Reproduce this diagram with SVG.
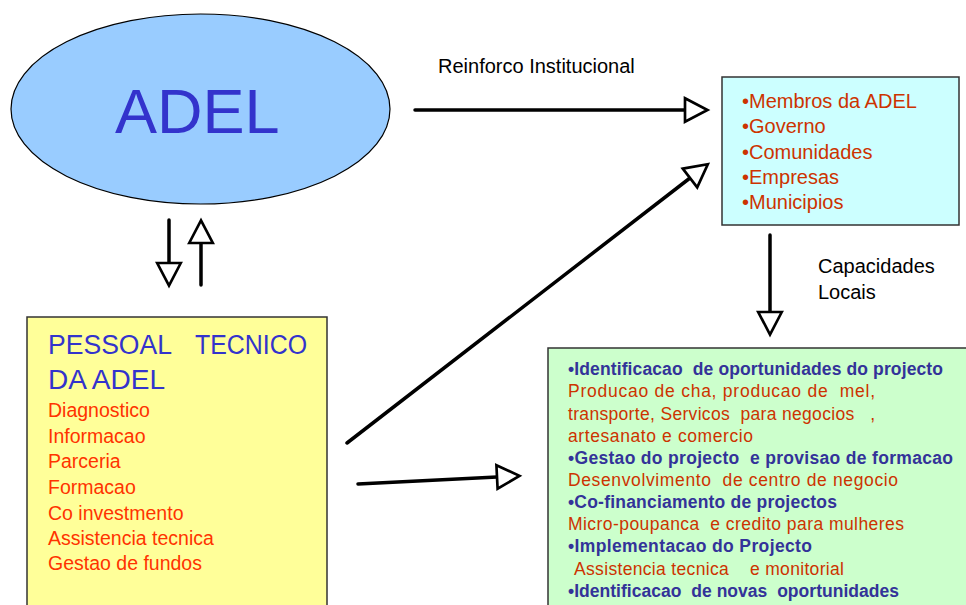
<svg xmlns="http://www.w3.org/2000/svg" width="966" height="605" viewBox="0 0 966 605">
<style>
.t{font-family:"Liberation Sans",Arial,sans-serif}
.lbl{font-size:20px;fill:#000}
.cy{font-size:20px;fill:#CC3300}
.ye{font-size:19.5px;fill:#FF3300}
.bl{font-size:17.5px;font-weight:bold;fill:#333399}
.rd{font-size:17.5px;fill:#CC3300}
.conn{stroke:#000;stroke-width:3.5;fill:none;stroke-linecap:round;marker-end:url(#ah)}
</style>
<defs>
<marker id="ah" markerUnits="userSpaceOnUse" markerWidth="30" markerHeight="30" viewBox="-3 -14 28 28" refX="0" refY="0" orient="auto">
<path d="M0,-11 L21,0 L0,11 Z" fill="#fff" stroke="#000" stroke-width="2.5" stroke-linejoin="miter"/>
</marker>
</defs>
<rect width="966" height="605" fill="#fff"/>

<g id="adel">
<ellipse cx="200.5" cy="109" rx="189.5" ry="95" fill="#99CCFF" stroke="#000" stroke-width="1.2"/>
<text class="t" x="115" y="133" font-size="63" fill="#3333CC">ADEL</text>
</g>

<g id="actores">
<rect x="722" y="77" width="237" height="148" fill="#CCFFFF" stroke="#333" stroke-width="1.5"/>
<text class="t cy" x="742" y="108">•Membros da ADEL</text>
<text class="t cy" x="742" y="133">•Governo</text>
<text class="t cy" x="742" y="159">•Comunidades</text>
<text class="t cy" x="742" y="184">•Empresas</text>
<text class="t cy" x="742" y="209">•Municipios</text>
</g>

<g id="pessoal">
<rect x="27" y="317" width="300" height="300" fill="#FFFF99" stroke="#333" stroke-width="1.5"/>
<text class="t" x="48" y="354" font-size="27" fill="#3333CC" textLength="124" lengthAdjust="spacingAndGlyphs">PESSOAL</text>
<text class="t" x="195" y="354" font-size="27" fill="#3333CC" textLength="112" lengthAdjust="spacingAndGlyphs">TECNICO</text>
<text class="t" x="48" y="389" font-size="27" fill="#3333CC" textLength="117" lengthAdjust="spacingAndGlyphs">DA ADEL</text>
<text class="t ye" x="48" y="417">Diagnostico</text>
<text class="t ye" x="48" y="443">Informacao</text>
<text class="t ye" x="48" y="468">Parceria</text>
<text class="t ye" x="48" y="494">Formacao</text>
<text class="t ye" x="48" y="520">Co investmento</text>
<text class="t ye" x="48" y="545">Assistencia tecnica</text>
<text class="t ye" x="48" y="570">Gestao de fundos</text>
</g>

<g id="projectos">
<rect x="548" y="348" width="430" height="280" fill="#CCFFCC" stroke="#333" stroke-width="1.5"/>
<text class="t bl" x="568" y="375" xml:space="preserve" textLength="375" lengthAdjust="spacing">•Identificacao  de oportunidades do projecto</text>
<text class="t rd" x="568" y="397" xml:space="preserve" textLength="307" lengthAdjust="spacing">Producao de cha, producao de  mel,</text>
<text class="t rd" x="568" y="420" xml:space="preserve" textLength="307" lengthAdjust="spacing">transporte, Servicos  para negocios   ,</text>
<text class="t rd" x="568" y="442" xml:space="preserve" textLength="185" lengthAdjust="spacing">artesanato e comercio</text>
<text class="t bl" x="568" y="464" xml:space="preserve" textLength="385" lengthAdjust="spacing">•Gestao do projecto  e provisao de formacao</text>
<text class="t rd" x="568" y="486" xml:space="preserve" textLength="330" lengthAdjust="spacing">Desenvolvimento  de centro de negocio</text>
<text class="t bl" x="568" y="508" xml:space="preserve" textLength="269" lengthAdjust="spacing">•Co-financiamento de projectos</text>
<text class="t rd" x="568" y="530" xml:space="preserve" textLength="336" lengthAdjust="spacing">Micro-poupanca  e credito para mulheres</text>
<text class="t bl" x="568" y="552" xml:space="preserve" textLength="244" lengthAdjust="spacing">•Implementacao do Projecto</text>
<text class="t rd" x="574" y="575" xml:space="preserve" textLength="270" lengthAdjust="spacing">Assistencia tecnica    e monitorial</text>
<text class="t bl" x="568" y="597" xml:space="preserve" textLength="331" lengthAdjust="spacing">•Identificacao  de novas  oportunidades</text>
</g>

<g id="connectors">
<line class="conn" x1="415" y1="110" x2="685" y2="110"/>
<line class="conn" x1="347" y1="443" x2="690" y2="178"/>
<line class="conn" x1="358" y1="484" x2="497" y2="477"/>
<line class="conn" x1="169" y1="220" x2="169" y2="263"/>
<line class="conn" x1="201" y1="285" x2="201" y2="243"/>
<line class="conn" x1="770" y1="235" x2="770" y2="312"/>
<text class="t lbl" x="438" y="73">Reinforco Institucional</text>
<text class="t lbl" x="818" y="273">Capacidades</text>
<text class="t lbl" x="818" y="299">Locais</text>
</g>
</svg>
